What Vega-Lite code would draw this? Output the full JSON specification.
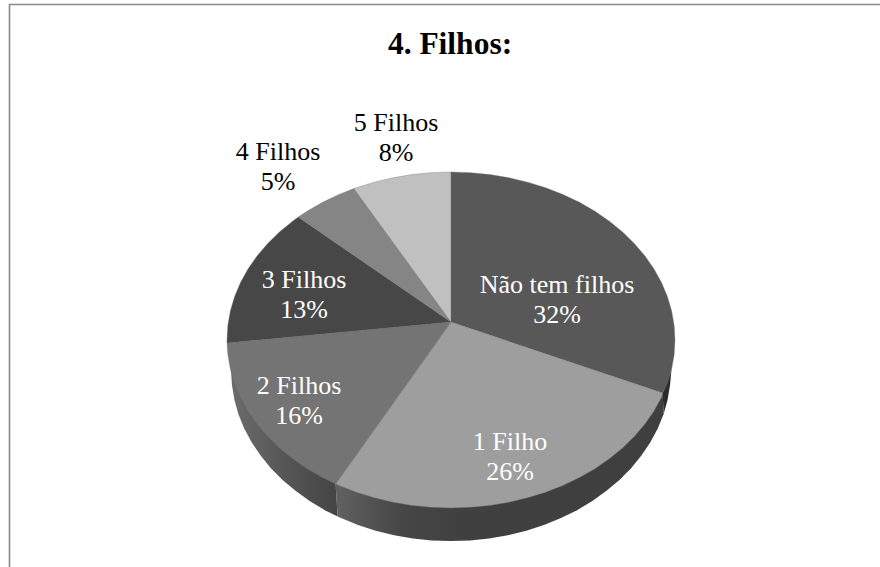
{
"$schema":"https://vega.github.io/schema/vega-lite/v6.json",
"width":880,"height":567,"padding":0,"autosize":{"type":"none"},
"background":"white",
"title":{"text":"4. Filhos:","font":"Liberation Serif","fontSize":31.5,"fontWeight":"bold","color":"#000000","anchor":"middle","baseline":"alphabetic","offset":0,"dy":85,"dx":10},
"config":{"view":{"stroke":null}},
"datasets":{
"frame":[{"seq":0,"x":-1.971,"y":-1.351},{"seq":1,"x":-1.971,"y":1.997},{"seq":2,"x":1.915,"y":1.997}],
"walls_right":[{"seq":0,"x":0.984,"y":-0.179},{"seq":1,"x":0.978,"y":-0.267},{"seq":2,"x":0.967,"y":-0.355},{"seq":3,"x":0.949,"y":-0.442},{"seq":4,"x":0.945,"y":-0.316},{"seq":5,"x":0.984,"y":-0.179}],
"wall_one":[{"seq":0,"x":0.945,"y":-0.316},{"seq":1,"x":0.949,"y":-0.442},{"seq":2,"x":0.923,"y":-0.527},{"seq":3,"x":0.89,"y":-0.609},{"seq":4,"x":0.85,"y":-0.688},{"seq":5,"x":0.804,"y":-0.763},{"seq":6,"x":0.752,"y":-0.833},{"seq":7,"x":0.694,"y":-0.898},{"seq":8,"x":0.631,"y":-0.958},{"seq":9,"x":0.563,"y":-1.013},{"seq":10,"x":0.491,"y":-1.06},{"seq":11,"x":0.415,"y":-1.101},{"seq":12,"x":0.336,"y":-1.135},{"seq":13,"x":0.254,"y":-1.162},{"seq":14,"x":0.17,"y":-1.181},{"seq":15,"x":0.086,"y":-1.193},{"seq":16,"x":0,"y":-1.197},{"seq":17,"x":-0.086,"y":-1.193},{"seq":18,"x":-0.17,"y":-1.181},{"seq":19,"x":-0.254,"y":-1.162},{"seq":20,"x":-0.336,"y":-1.135},{"seq":21,"x":-0.415,"y":-1.101},{"seq":22,"x":-0.491,"y":-1.06},{"seq":23,"x":-0.506,"y":-1.051},{"seq":24,"x":-0.515,"y":-0.857},{"seq":25,"x":0.945,"y":-0.316}],
"wall_two":[{"seq":0,"x":-0.515,"y":-0.857},{"seq":1,"x":-0.506,"y":-1.051},{"seq":2,"x":-0.563,"y":-1.013},{"seq":3,"x":-0.631,"y":-0.958},{"seq":4,"x":-0.694,"y":-0.898},{"seq":5,"x":-0.752,"y":-0.833},{"seq":6,"x":-0.804,"y":-0.763},{"seq":7,"x":-0.85,"y":-0.688},{"seq":8,"x":-0.89,"y":-0.609},{"seq":9,"x":-0.923,"y":-0.527},{"seq":10,"x":-0.949,"y":-0.442},{"seq":11,"x":-0.967,"y":-0.355},{"seq":12,"x":-0.978,"y":-0.267},{"seq":13,"x":-0.982,"y":-0.179},{"seq":14,"x":-0.98,"y":-0.02},{"seq":15,"x":-0.515,"y":-0.857}],
"faces":[
{"slice":"Não tem filhos","seq":0,"x":0,"y":0.107},
{"slice":"Não tem filhos","seq":1,"x":0,"y":1},
{"slice":"Não tem filhos","seq":2,"x":0.0872,"y":0.9962},
{"slice":"Não tem filhos","seq":3,"x":0.1736,"y":0.9848},
{"slice":"Não tem filhos","seq":4,"x":0.2588,"y":0.9659},
{"slice":"Não tem filhos","seq":5,"x":0.342,"y":0.9397},
{"slice":"Não tem filhos","seq":6,"x":0.4226,"y":0.9063},
{"slice":"Não tem filhos","seq":7,"x":0.5,"y":0.866},
{"slice":"Não tem filhos","seq":8,"x":0.5736,"y":0.8192},
{"slice":"Não tem filhos","seq":9,"x":0.6428,"y":0.766},
{"slice":"Não tem filhos","seq":10,"x":0.7071,"y":0.7071},
{"slice":"Não tem filhos","seq":11,"x":0.766,"y":0.6428},
{"slice":"Não tem filhos","seq":12,"x":0.8192,"y":0.5736},
{"slice":"Não tem filhos","seq":13,"x":0.866,"y":0.5},
{"slice":"Não tem filhos","seq":14,"x":0.9063,"y":0.4226},
{"slice":"Não tem filhos","seq":15,"x":0.9397,"y":0.342},
{"slice":"Não tem filhos","seq":16,"x":0.9659,"y":0.2588},
{"slice":"Não tem filhos","seq":17,"x":0.9848,"y":0.1736},
{"slice":"Não tem filhos","seq":18,"x":0.9962,"y":0.0872},
{"slice":"Não tem filhos","seq":19,"x":1,"y":0},
{"slice":"Não tem filhos","seq":20,"x":0.9962,"y":-0.0872},
{"slice":"Não tem filhos","seq":21,"x":0.9848,"y":-0.1736},
{"slice":"Não tem filhos","seq":22,"x":0.9659,"y":-0.2588},
{"slice":"Não tem filhos","seq":23,"x":0.945,"y":-0.316},
{"slice":"Não tem filhos","seq":24,"x":0,"y":0.107},
{"slice":"1 Filho","seq":0,"x":0,"y":0.107},
{"slice":"1 Filho","seq":1,"x":0.945,"y":-0.316},
{"slice":"1 Filho","seq":2,"x":0.9397,"y":-0.342},
{"slice":"1 Filho","seq":3,"x":0.9063,"y":-0.4226},
{"slice":"1 Filho","seq":4,"x":0.866,"y":-0.5},
{"slice":"1 Filho","seq":5,"x":0.8192,"y":-0.5736},
{"slice":"1 Filho","seq":6,"x":0.766,"y":-0.6428},
{"slice":"1 Filho","seq":7,"x":0.7071,"y":-0.7071},
{"slice":"1 Filho","seq":8,"x":0.6428,"y":-0.766},
{"slice":"1 Filho","seq":9,"x":0.5736,"y":-0.8192},
{"slice":"1 Filho","seq":10,"x":0.5,"y":-0.866},
{"slice":"1 Filho","seq":11,"x":0.4226,"y":-0.9063},
{"slice":"1 Filho","seq":12,"x":0.342,"y":-0.9397},
{"slice":"1 Filho","seq":13,"x":0.2588,"y":-0.9659},
{"slice":"1 Filho","seq":14,"x":0.1736,"y":-0.9848},
{"slice":"1 Filho","seq":15,"x":0.0872,"y":-0.9962},
{"slice":"1 Filho","seq":16,"x":0,"y":-1},
{"slice":"1 Filho","seq":17,"x":-0.0872,"y":-0.9962},
{"slice":"1 Filho","seq":18,"x":-0.1736,"y":-0.9848},
{"slice":"1 Filho","seq":19,"x":-0.2588,"y":-0.9659},
{"slice":"1 Filho","seq":20,"x":-0.342,"y":-0.9397},
{"slice":"1 Filho","seq":21,"x":-0.4226,"y":-0.9063},
{"slice":"1 Filho","seq":22,"x":-0.5,"y":-0.866},
{"slice":"1 Filho","seq":23,"x":-0.515,"y":-0.857},
{"slice":"1 Filho","seq":24,"x":0,"y":0.107},
{"slice":"2 Filhos","seq":0,"x":0,"y":0.107},
{"slice":"2 Filhos","seq":1,"x":-0.515,"y":-0.857},
{"slice":"2 Filhos","seq":2,"x":-0.5736,"y":-0.8192},
{"slice":"2 Filhos","seq":3,"x":-0.6428,"y":-0.766},
{"slice":"2 Filhos","seq":4,"x":-0.7071,"y":-0.7071},
{"slice":"2 Filhos","seq":5,"x":-0.766,"y":-0.6428},
{"slice":"2 Filhos","seq":6,"x":-0.8192,"y":-0.5736},
{"slice":"2 Filhos","seq":7,"x":-0.866,"y":-0.5},
{"slice":"2 Filhos","seq":8,"x":-0.9063,"y":-0.4226},
{"slice":"2 Filhos","seq":9,"x":-0.9397,"y":-0.342},
{"slice":"2 Filhos","seq":10,"x":-0.9659,"y":-0.2588},
{"slice":"2 Filhos","seq":11,"x":-0.9848,"y":-0.1736},
{"slice":"2 Filhos","seq":12,"x":-0.9962,"y":-0.0872},
{"slice":"2 Filhos","seq":13,"x":-0.9998,"y":-0.0175},
{"slice":"2 Filhos","seq":14,"x":0,"y":0.107},
{"slice":"3 Filhos","seq":0,"x":0,"y":0.107},
{"slice":"3 Filhos","seq":1,"x":-0.9998,"y":-0.0175},
{"slice":"3 Filhos","seq":2,"x":-1,"y":0},
{"slice":"3 Filhos","seq":3,"x":-0.9962,"y":0.0872},
{"slice":"3 Filhos","seq":4,"x":-0.9848,"y":0.1736},
{"slice":"3 Filhos","seq":5,"x":-0.9659,"y":0.2588},
{"slice":"3 Filhos","seq":6,"x":-0.9397,"y":0.342},
{"slice":"3 Filhos","seq":7,"x":-0.9063,"y":0.4226},
{"slice":"3 Filhos","seq":8,"x":-0.866,"y":0.5},
{"slice":"3 Filhos","seq":9,"x":-0.8192,"y":0.5736},
{"slice":"3 Filhos","seq":10,"x":-0.766,"y":0.6428},
{"slice":"3 Filhos","seq":11,"x":-0.7071,"y":0.7071},
{"slice":"3 Filhos","seq":12,"x":-0.682,"y":0.7314},
{"slice":"3 Filhos","seq":13,"x":0,"y":0.107},
{"slice":"4 Filhos","seq":0,"x":0,"y":0.107},
{"slice":"4 Filhos","seq":1,"x":-0.682,"y":0.7314},
{"slice":"4 Filhos","seq":2,"x":-0.6428,"y":0.766},
{"slice":"4 Filhos","seq":3,"x":-0.5736,"y":0.8192},
{"slice":"4 Filhos","seq":4,"x":-0.5,"y":0.866},
{"slice":"4 Filhos","seq":5,"x":-0.4337,"y":0.9011},
{"slice":"4 Filhos","seq":6,"x":0,"y":0.107},
{"slice":"5 Filhos","seq":0,"x":0,"y":0.107},
{"slice":"5 Filhos","seq":1,"x":-0.4337,"y":0.9011},
{"slice":"5 Filhos","seq":2,"x":-0.4226,"y":0.9063},
{"slice":"5 Filhos","seq":3,"x":-0.342,"y":0.9397},
{"slice":"5 Filhos","seq":4,"x":-0.2588,"y":0.9659},
{"slice":"5 Filhos","seq":5,"x":-0.1736,"y":0.9848},
{"slice":"5 Filhos","seq":6,"x":-0.0872,"y":0.9962},
{"slice":"5 Filhos","seq":7,"x":0,"y":1},
{"slice":"5 Filhos","seq":8,"x":0,"y":0.107}
],
"labels_inside":[
{"label":"Não tem filhos\n32%","x":0.4732,"y":0.2798},
{"label":"1 Filho\n26%","x":0.2634,"y":-0.6548},
{"label":"2 Filhos\n16%","x":-0.6786,"y":-0.3214},
{"label":"3 Filhos\n13%","x":-0.6563,"y":0.3095}
],
"labels_outside":[
{"label":"4 Filhos\n5%","x":-0.7723,"y":1.0714},
{"label":"5 Filhos\n8%","x":-0.2455,"y":1.244}
]
},
"encoding":{
"x":{"field":"x","type":"quantitative","axis":null,"scale":{"domain":[-2.0134,1.9152],"nice":false,"zero":false}},
"y":{"field":"y","type":"quantitative","axis":null,"scale":{"domain":[-1.3512,2.0238],"nice":false,"zero":false}},
"order":{"field":"seq","type":"quantitative"}
},
"layer":[
{"data":{"name":"frame"},"mark":{"type":"line","stroke":"#8a8a8a","strokeWidth":1.6,"clip":false}},
{"data":{"name":"walls_right"},"mark":{"type":"line","fill":"#2c2c2c","stroke":null}},
{"data":{"name":"wall_one"},"mark":{"type":"line","stroke":null,"fill":{"gradient":"linear","x1":0,"x2":1,"y1":0,"y2":0,"stops":[{"offset":0,"color":"#616161"},{"offset":0.2,"color":"#464646"},{"offset":0.4,"color":"#404040"},{"offset":1,"color":"#3f3f3f"}]}}},
{"data":{"name":"wall_two"},"mark":{"type":"line","stroke":null,"fill":{"gradient":"linear","x1":0,"x2":1,"y1":0,"y2":0,"stops":[{"offset":0,"color":"#6c6c6c"},{"offset":0.5,"color":"#565656"},{"offset":1,"color":"#444444"}]}}},
{"data":{"name":"faces"},"mark":{"type":"line","stroke":"#6a6a6a","strokeWidth":0.6,"strokeOpacity":0.6},
 "encoding":{"fill":{"field":"slice","type":"nominal","legend":null,"scale":{"domain":["Não tem filhos","1 Filho","2 Filhos","3 Filhos","4 Filhos","5 Filhos"],"range":["#585858","#9e9e9e","#747474","#474747","#858585","#c0c0c0"]}}}},
{"data":{"name":"labels_inside"},"mark":{"type":"text","font":"Liberation Serif","fontSize":26,"color":"#ffffff","align":"center","baseline":"alphabetic","lineBreak":"\n","lineHeight":30},
 "encoding":{"text":{"field":"label"},"order":{"value":null}}},
{"data":{"name":"labels_outside"},"mark":{"type":"text","font":"Liberation Serif","fontSize":26,"color":"#000000","align":"center","baseline":"alphabetic","lineBreak":"\n","lineHeight":30},
 "encoding":{"text":{"field":"label"},"order":{"value":null}}}
]
}
